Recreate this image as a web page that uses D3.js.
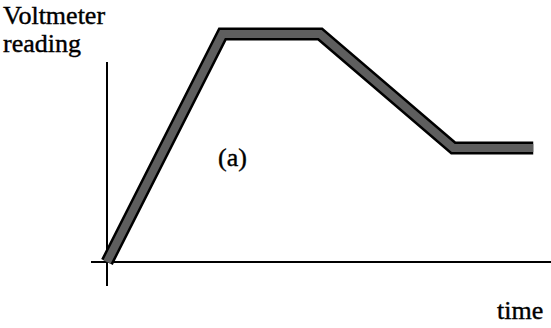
<!DOCTYPE html>
<html>
<head>
<meta charset="utf-8">
<script src="https://cdn.jsdelivr.net/npm/d3@7"></script>
<style>
  body { margin: 0; background: #fff; }
  svg { display: block; }
</style>
</head>
<body>
<svg width="551" height="328"></svg>
<script>
// readings along the trace (arbitrary units)
const times = [0, 26, 48, 78, 96];
const readings = [0, 100, 100, 50, 50];

const svg = d3.select("svg");

const x = d3.scaleLinear().domain([0, 100]).range([107, 551]);
const y = d3.scaleLinear().domain([0, 100]).range([262, 34]);

function txt(sel) {
  return sel
    .style("font-family", '"Liberation Serif"')
    .style("font-size", "26px")
    .attr("fill", "#000")
    .attr("stroke", "#000")
    .attr("stroke-width", 0.4);
}

txt(svg.append("text")).attr("x", 3).attr("y", 24).text("Voltmeter");
txt(svg.append("text")).attr("x", 3).attr("y", 52).text("reading");
txt(svg.append("text")).attr("x", 218).attr("y", 166).text("(a)");
txt(svg.append("text")).attr("x", 497).attr("y", 319).text("time");

// axes (plain lines, no ticks)
svg.append("line")
  .attr("x1", x(0)).attr("x2", x(0))
  .attr("y1", 62).attr("y2", 286)
  .attr("stroke", "#000").attr("stroke-width", 2);

svg.append("line")
  .attr("x1", 91).attr("x2", 551)
  .attr("y1", y(0)).attr("y2", y(0))
  .attr("stroke", "#000").attr("stroke-width", 2);

const pts = times.map((t, i) => [t, readings[i]]);
const line = d3.line().x(d => x(d[0])).y(d => y(d[1]));

// thick band: black outline with grey inside
svg.append("path")
  .attr("d", line(pts))
  .attr("fill", "none")
  .attr("stroke", "#000")
  .attr("stroke-width", 13)
  .attr("stroke-linejoin", "miter");

svg.append("path")
  .attr("d", line(pts))
  .attr("fill", "none")
  .attr("stroke", "#5e5e5e")
  .attr("stroke-width", 8)
  .attr("stroke-linejoin", "miter");
</script>
</body>
</html>
